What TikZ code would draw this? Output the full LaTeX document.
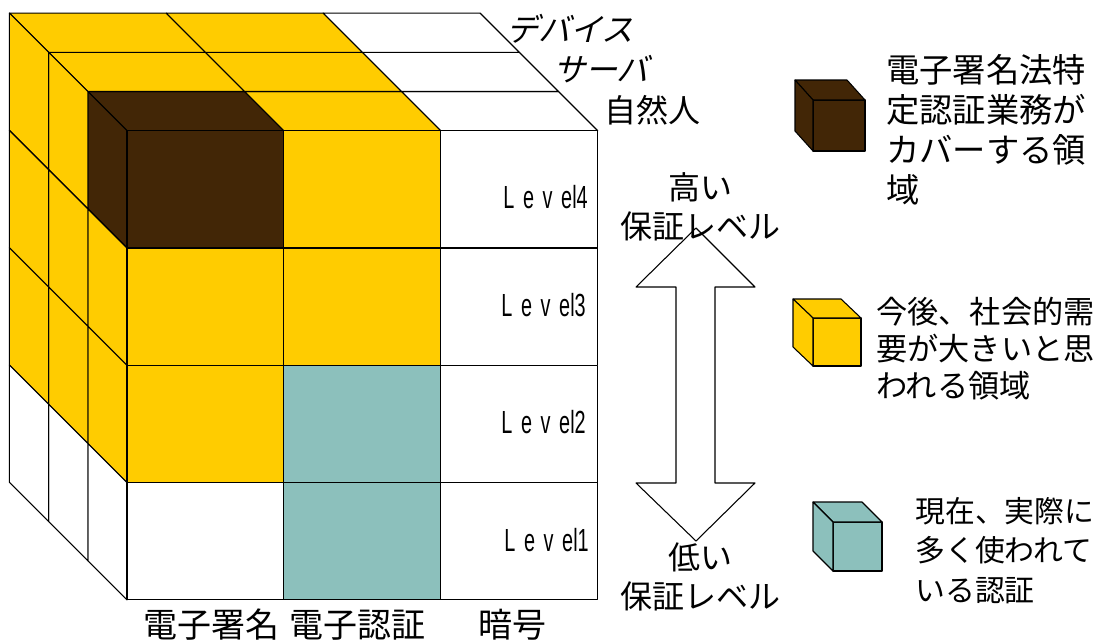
\documentclass[tikz,border=0pt]{standalone}
\usepackage{fontspec}
\setmainfont{Noto Sans CJK JP}
\newfontfamily\jpit[FakeSlant=0.25]{Noto Sans CJK JP}
\newfontfamily\lvsp[FakeStretch=0.62,LetterSpace=27]{Liberation Sans}
\newfontfamily\lvnm[FakeStretch=0.62]{Liberation Sans}
\definecolor{cyellow}{RGB}{255,204,0}
\definecolor{cbrown}{RGB}{66,38,6}
\definecolor{cteal}{RGB}{140,192,188}
\newcommand\legcube[7]{%
  \filldraw[fill=#7,cell] (#1,#2) rectangle (#3,#4);
  \filldraw[fill=#7,cell] (#1,#2) -- ({#1+#5},{#2+#6}) -- ({#3+#5},{#2+#6}) -- (#3,#2) -- cycle;
  \filldraw[fill=#7,cell] (#1,#2) -- ({#1+#5},{#2+#6}) -- ({#1+#5},{#4+#6}) -- (#1,#4) -- cycle;
}
\newcommand\lvtext[1]{{\lvsp Leve}{\lvnm l#1}}
\tikzset{
  cell/.style={draw=black,line width=0.8pt,line join=round},
  lvl/.style={font=\fontsize{24}{24}\selectfont,anchor=east,inner sep=0pt},
  axis/.style={font=\fontsize{25.5}{25.5}\selectfont,inner sep=0pt},
  depth/.style={font=\jpit\fontsize{24}{24}\selectfont,inner sep=0pt},
  side/.style={font=\fontsize{24}{29}\selectfont,align=center,inner sep=0pt},
  legtext/.style={align=left,anchor=west,inner sep=0pt}
}
\begin{document}
\begin{tikzpicture}[x=0.75pt,y=-0.75pt]
\useasboundingbox (0,0) rectangle (1100,643);
% grid of corner points: column c, row r, depth k
\foreach \c in {0,...,3}{\foreach \r in {0,...,4}{\foreach \k in {0,...,3}{
  \coordinate (p\c\r\k) at ({127+\c*156.9-\k*39.2},{130.7+\r*117.3-\k*39.2});
}}}
% top face
\foreach \c/\k/\fc [evaluate=\c as \cc using int(\c+1), evaluate=\k as \kk using int(\k+1)] in
  {0/0/cbrown,0/1/cyellow,0/2/cyellow,1/0/cyellow,1/1/cyellow,1/2/cyellow,2/0/white,2/1/white,2/2/white}
  {\filldraw[cell,fill=\fc] (p\c0\k) -- (p\cc0\k) -- (p\cc0\kk) -- (p\c0\kk) -- cycle;}
% left face
\foreach \r/\k/\fc [evaluate=\r as \rr using int(\r+1), evaluate=\k as \kk using int(\k+1)] in
  {0/0/cbrown,0/1/cyellow,0/2/cyellow,1/0/cyellow,1/1/cyellow,1/2/cyellow,2/0/cyellow,2/1/cyellow,2/2/cyellow,3/0/white,3/1/white,3/2/white}
  {\filldraw[cell,fill=\fc] (p0\r\k) -- (p0\rr\k) -- (p0\rr\kk) -- (p0\r\kk) -- cycle;}
% front face
\foreach \c/\r/\fc [evaluate=\c as \cc using int(\c+1), evaluate=\r as \rr using int(\r+1)] in
  {0/0/cbrown,0/1/cyellow,0/2/cyellow,0/3/white,1/0/cyellow,1/1/cyellow,1/2/cteal,1/3/cteal,2/0/white,2/1/white,2/2/white,2/3/white}
  {\filldraw[cell,fill=\fc] (p\c\r0) rectangle (p\cc\rr0);}
% level labels
\node[lvl] (l4) at (588,197) {\lvtext{4}};
\node[lvl] (l3) at (586,305) {\lvtext{3}};
\node[lvl] (l2) at (586,422) {\lvtext{2}};
\node[lvl] (l1) at (589,540) {\lvtext{1}};
% axis labels
\node[axis] (a1) at (211,625) {電子署名};
\node[axis] (a2) at (357,625) {電子認証};
\node[axis] (a3) at (512,625) {暗号};
\node[depth] (d1) at (570,29) {デバイス};
\node[depth] (d2) at (601,69) {サーバ};
\node[font=\fontsize{24}{24}\selectfont,inner sep=0pt] (d3) at (652,110) {自然人};
% double arrow
\filldraw[cell,fill=white] (696,228) -- (755,287) -- (715,287) -- (715,483) -- (755,483)
  -- (696,541) -- (636,483) -- (676,483) -- (676,287) -- (636,287) -- cycle;
\node[side] (hi) at (700,207) {高い\\保証レベル};
\node[side] (lo) at (700,577) {低い\\保証レベル};
% legend
\legcube{813}{100}{865}{151}{-18}{-20}{cbrown}
\node[legtext,font=\fontsize{25}{30}\selectfont] (t1) at (886,130) {電子署名法特\\定認証業務が\\カバーする領\\域};
\legcube{813}{318}{861}{366}{-20}{-19}{cyellow}
\node[legtext,font=\fontsize{23.4}{28}\selectfont] (t2) at (876,348.5) {今後、社会的需\\要が大きいと思\\われる領域};
\legcube{833}{522}{882}{571}{-20}{-20}{cteal}
\node[legtext,font=\fontsize{22.4}{29.6}\selectfont] (t3) at (915,550.5) {現在、実際に\\多く使われて\\いる認証};
\end{tikzpicture}
\end{document}
